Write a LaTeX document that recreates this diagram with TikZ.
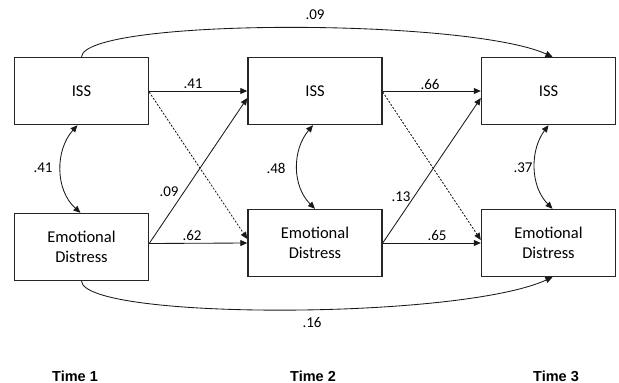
\documentclass[tikz,border=0pt]{standalone}
\usepackage{fontspec}
\setmainfont{Carlito}
\newfontfamily\timefont{Liberation Sans}
\usetikzlibrary{arrows.meta}
\begin{document}
\begin{tikzpicture}[x=1pt,y=-1pt,
  box/.style={draw=black!85,line width=1.4pt,minimum width=134pt,minimum height=67pt,inner sep=0pt,
    font=\fontsize{16.5}{20}\selectfont,align=center},
  lbl/.style={font=\fontsize{15}{17}\selectfont,inner sep=0pt},
  tlbl/.style={font=\timefont\bfseries\fontsize{14.5}{16}\selectfont,inner sep=0pt},
  tip/.style={-{Triangle[length=7pt,width=6pt]}},
  conn/.style={line width=0.85pt,draw=black!90,tip},
  dconn/.style={conn,dash pattern=on 2pt off 1.6pt},
  cov/.style={line width=0.85pt,draw=black!90,{Triangle[length=7pt,width=6pt]}-{Triangle[length=7pt,width=6pt]}}
]
\useasboundingbox (0,0) rectangle (619,383);
\node[box] (iss1) at (81.5,91) {ISS};
\node[box] (iss2) at (315,91) {ISS};
\node[box] (iss3) at (548.5,91) {ISS};
\node[box] (ed1) at (81.5,247) {Emotional\\Distress};
\node[box] (ed2) at (315,243) {Emotional\\Distress};
\node[box] (ed3) at (548.5,243) {Emotional\\Distress};

% cross-lagged paths T1 -> T2
\draw[conn] (iss1.east) -- (iss2.west);
\draw[dconn] ([yshift=-1pt]iss1.east) -- ([yshift=4pt]ed2.west);
\draw[conn] ([yshift=3.5pt]ed1.east) -- ([yshift=-7pt]iss2.west);
\draw[conn] ([yshift=3.5pt]ed1.east) -- (ed2.west);
% T2 -> T3
\draw[conn] (iss2.east) -- (iss3.west);
\draw[dconn] ([yshift=-1pt]iss2.east) -- ([yshift=3pt]ed3.west);
\draw[conn] (ed2.east) -- ([yshift=-7pt]iss3.west);
\draw[conn] (ed2.east) -- (ed3.west);
% long paths
\draw[conn] (iss1.north) .. controls (85,18) and (466,18) .. ([xshift=4pt]iss3.north);
\draw[conn] (ed1.south) .. controls (85,320) and (458,320) .. ([xshift=4pt]ed3.south);
% covariances
\draw[cov] ([xshift=-4pt]iss1.south) .. controls (55,150) and (55,190) .. ([xshift=-1pt]ed1.north);
\draw[cov] ([xshift=-2pt]iss2.south) .. controls (292,150) and (292,186) .. (ed2.north);
\draw[cov] (iss3.south) .. controls (530,150) and (530,186) .. ([xshift=4pt]ed3.north);

% labels
\node[lbl] (l1) at (315,15) {.09};
\node[lbl] (l2) at (193,84) {.41};
\node[lbl] (l3) at (430,84) {.66};
\node[lbl] (l4) at (43,168) {.41};
\node[lbl] (l5) at (276,168) {.48};
\node[lbl] (l6) at (523,168) {.37};
\node[lbl] (l7) at (169,192) {.09};
\node[lbl] (l8) at (401,197) {.13};
\node[lbl] (l9) at (192,235) {.62};
\node[lbl] (l10) at (437,235) {.65};
\node[lbl] (l11) at (312,322) {.16};

\node[tlbl] (t1) at (75,376) {Time 1};
\node[tlbl] (t2) at (313,376) {Time 2};
\node[tlbl] (t3) at (556,376) {Time 3};
\end{tikzpicture}
\end{document}
